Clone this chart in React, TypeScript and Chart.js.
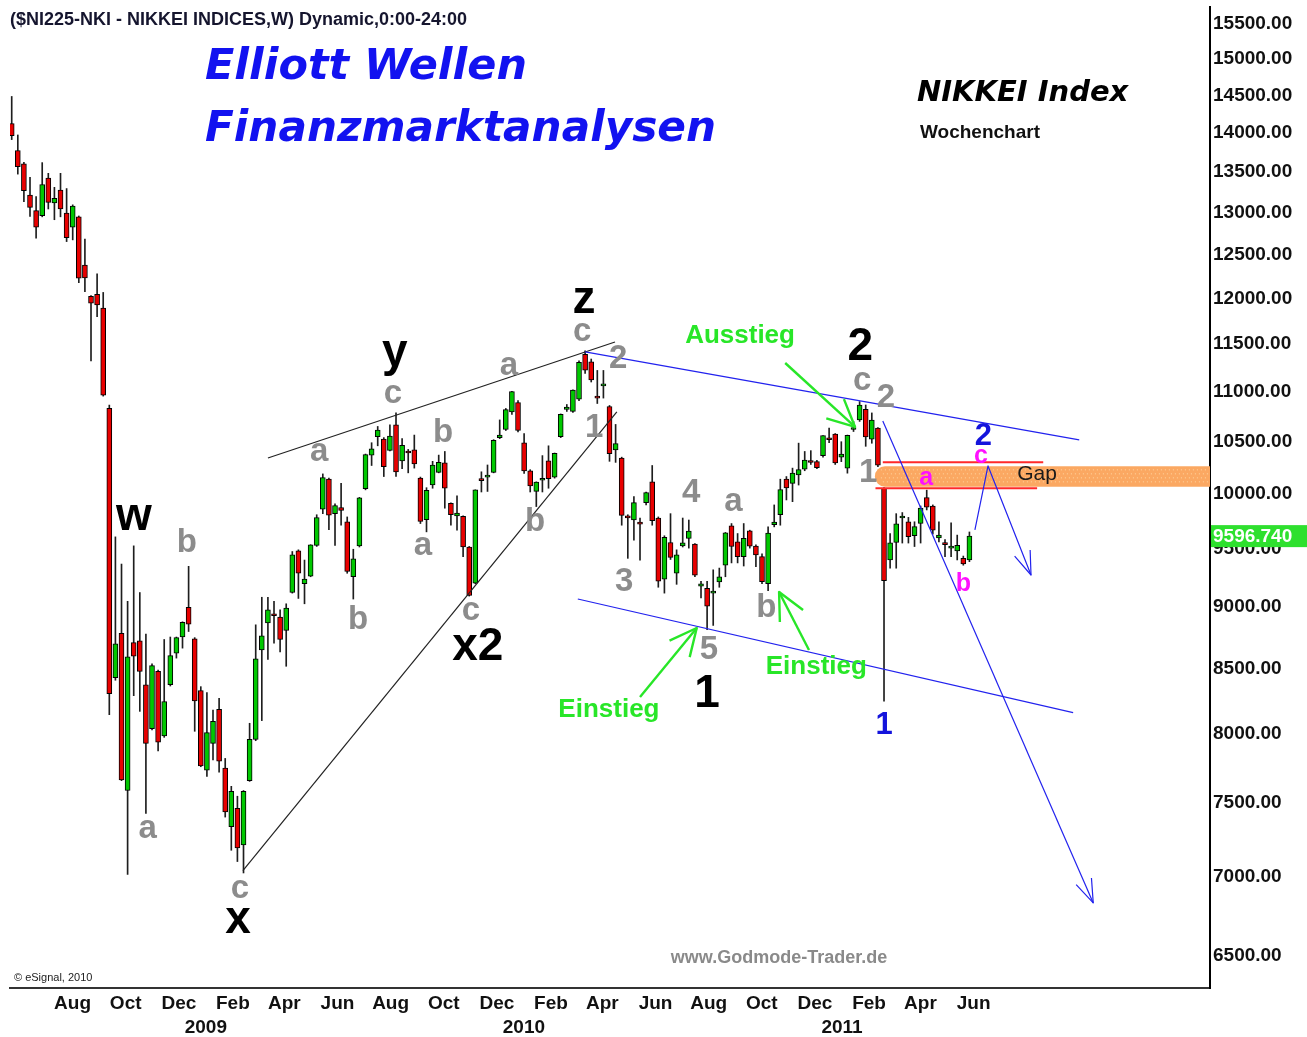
import React, { useEffect, useRef } from "react";
import { Chart, registerables } from "chart.js";

Chart.register(...registerables);

// ---------- data ----------
const START_DATE = Date.UTC(2008, 5, 16); // first weekly candle (week of 16 Jun 2008)
const WEEK_MS = 7 * 86400000;

const opens = [
  14100, 13750, 13580, 13190, 13000, 12940, 13400, 13095, 13250, 12970,
  12800, 12925, 12355, 12000, 12025, 11870, 10810, 8410, 8765, 7570,
  8690, 8705, 8355, 8020, 8460, 7965, 8355, 8605, 8735, 8980,
  8720, 8310, 7715, 7910, 8165, 7730, 7320, 7445, 7195, 7640,
  7940, 8630, 8850, 8920, 8900, 8790, 9105, 9465, 9180, 9245,
  9515, 9840, 10120, 9800, 9855, 9725, 9240, 9510, 10030, 10350,
  10530, 10505, 10395, 10645, 10295, 10375, 10400, 10130, 9745, 10065,
  10185, 10275, 9895, 9780, 9775, 9500, 9185, 10110, 10140, 10185,
  10520, 10600, 10775, 10870, 10470, 10200, 10005, 10110, 10295, 10140,
  10530, 10800, 10780, 10905, 11370, 11290, 10930, 11040, 10830, 10400,
  10320, 9780, 9742, 9715, 9900, 10095, 9760, 9220, 9540, 9270,
  9510, 9577, 9525, 9160, 9140, 9100, 9195, 9340, 9690, 9545,
  9415, 9645, 9508, 9415, 9180, 9700, 9790, 10120, 10080, 10160,
  10215, 10290, 10287, 10345, 10500, 10555, 10330, 10225, 10600, 10695,
  10800, 10505, 10615, 10035, 9386, 9540, 9760, 9725, 9600, 9710,
  9947, 9870, 9580, 9530, 9490, 9466, 9400, 9386,
];
const highs = [
  14460, 13950, 13600, 13410, 13170, 13595, 13460, 13285, 13460, 13270,
  13070, 12935, 12660, 12010, 12255, 12045, 10845, 9590, 9350, 9030,
  9510, 9105, 8760, 8520, 8470, 8715, 8735, 8735, 8860, 9330,
  8730, 8340, 8295, 8160, 8250, 7800, 7600, 7530, 7570, 8060,
  8835, 9065, 9065, 9030, 8960, 9010, 9460, 9475, 9385, 9520,
  9790, 10170, 10130, 9890, 10080, 9770, 9480, 9950, 10360, 10470,
  10630, 10520, 10645, 10765, 10510, 10405, 10545, 10140, 10040, 10290,
  10350, 10385, 9900, 9965, 9780, 9505, 10020, 10190, 10255, 10500,
  10695, 10810, 10985, 10890, 10560, 10210, 10095, 10345, 10440, 10370,
  10755, 10850, 11000, 11300, 11408, 11320, 11200, 11200, 10840, 10650,
  10330, 9790, 9957, 9760, 10000, 10250, 9770, 9600, 9800, 9475,
  9760, 9742, 9530, 9200, 9200, 9300, 9315, 9630, 9710, 9620,
  9710, 9650, 9520, 9440, 9680, 9880, 10120, 10145, 10225, 10466,
  10385, 10393, 10300, 10540, 10615, 10560, 10480, 10545, 10680, 10880,
  10845, 10765, 10620, 10040, 9620, 9800, 9810, 9766, 9726, 9870,
  10017, 9880, 9726, 9565, 9717, 9606, 9420, 9634,
];
const lows = [
  13890, 13450, 13110, 12930, 12670, 12925, 13020, 12890, 12925, 12630,
  12650, 12155, 12055, 11300, 11775, 10935, 8125, 8390, 7640, 7000,
  8270, 8150, 7410, 8010, 7855, 7955, 8345, 8565, 8645, 8780,
  8000, 7740, 7670, 7790, 7700, 7385, 7160, 7085, 7010, 7635,
  7930, 8080, 8555, 8685, 8615, 8500, 9100, 9055, 9010, 9240,
  9505, 9800, 9655, 9515, 9695, 9270, 9050, 9500, 10020, 10250,
  10440, 10145, 10390, 10145, 10220, 10180, 10225, 9710, 9635, 10035,
  10180, 9850, 9695, 9650, 9415, 9075, 9180, 10000, 10005, 10180,
  10510, 10590, 10750, 10575, 10175, 10000, 9865, 10000, 10035, 10130,
  10520, 10780, 10770, 10890, 11170, 11080, 10860, 10915, 10290, 10280,
  9695, 9400, 9560, 9385, 9880, 9695, 9150, 9100, 9390, 9175,
  9500, 9490, 9240, 9060, 8796, 8830, 9150, 9240, 9360, 9360,
  9333, 9490, 9327, 9180, 9120, 9680, 9695, 9926, 9910, 10065,
  10200, 10260, 10220, 10330, 10470, 10260, 10287, 10177, 10580, 10680,
  10435, 10465, 10240, 8227, 9314, 9314, 9535, 9535, 9504, 9535,
  9834, 9615, 9546, 9415, 9415, 9386, 9340, 9371,
];
const closes = [
  13940, 13545, 13245, 13040, 12800, 13320, 13100, 13150, 13020, 12675,
  13055, 12205, 12210, 11925, 11905, 10945, 8285, 8680, 7645, 8575,
  8580, 8460, 7910, 8505, 7920, 8225, 8585, 8730, 8855, 8840,
  8230, 7745, 7990, 8075, 7780, 7420, 7565, 7175, 7565, 7940,
  8560, 8745, 8960, 8910, 8715, 8975, 9430, 9270, 9220, 9520,
  9765, 10135, 9785, 9875, 9830, 9285, 9395, 9945, 10355, 10410,
  10595, 10240, 10535, 10190, 10445, 10370, 10265, 9730, 10015, 10255,
  10280, 10035, 9790, 9805, 9500, 9080, 10020, 10107, 10142, 10494,
  10546, 10798, 10982, 10590, 10198, 10057, 10092, 10123, 10126, 10368,
  10751, 10824, 10996, 11286, 11204, 11102, 10914, 11057, 10364, 10462,
  9784, 9762, 9901, 9705, 9995, 9737, 9203, 9585, 9408, 9431,
  9537, 9642, 9253, 9179, 8991, 9114, 9239, 9626, 9504, 9415,
  9577, 9508, 9430, 9197, 9625, 9724, 10022, 10039, 10178, 10211,
  10303, 10279, 10229, 10541, 10499, 10274, 10360, 10543, 10606, 10843,
  10527, 10694, 10254, 9207, 9536, 9708, 9768, 9591, 9682, 9850,
  9859, 9650, 9607, 9521, 9492, 9514, 9351, 9597,
];

const yTickValues = [
  6500, 7000, 7500, 8000, 8500, 9000, 9500, 10000, 10500, 11000,
  11500, 12000, 12500, 13000, 13500, 14000, 14500, 15000, 15500,
];
const monthTickDates = [
  "2008-08-01", "2008-10-01", "2008-12-01", "2009-02-01", "2009-04-01", "2009-06-01",
  "2009-08-01", "2009-10-01", "2009-12-01", "2010-02-01", "2010-04-01", "2010-06-01",
  "2010-08-01", "2010-10-01", "2010-12-01", "2011-02-01", "2011-04-01", "2011-06-01",
];
const monthTickLabels = [
  "Aug", "Oct", "Dec", "Feb", "Apr", "Jun",
  "Aug", "Oct", "Dec", "Feb", "Apr", "Jun",
  "Aug", "Oct", "Dec", "Feb", "Apr", "Jun",
];
const yearTickDates = ["2009-01-01", "2010-01-01", "2011-01-01"];
const yearTickLabels = ["2009", "2010", "2011"];

const lastPrice = 9596.74;
const gapBand = [10050, 10242]; // orange gap zone
const gapEdgeLow = 10035;
const gapEdgeHigh = 10281;

// annotations in chart coordinates (week index, price)
const waveLabels = [
  { text: "w", week: 20.05, price: 9770, style: "black" },
  { text: "b", week: 28.7, price: 9536, style: "gray" },
  { text: "a", week: 22.3, price: 7304, style: "gray" },
  { text: "c", week: 37.4, price: 6906, style: "gray" },
  { text: "x", week: 37.1, price: 6710, style: "black" },
  { text: "a", week: 50.4, price: 10381, style: "gray" },
  { text: "c", week: 62.5, price: 10957, style: "gray" },
  { text: "y", week: 62.8, price: 11385, style: "black" },
  { text: "b", week: 56.8, price: 8875, style: "gray" },
  { text: "a", week: 67.4, price: 9509, style: "gray" },
  { text: "b", week: 70.7, price: 10567, style: "gray" },
  { text: "a", week: 81.5, price: 11247, style: "gray" },
  { text: "c", week: 93.5, price: 11610, style: "gray" },
  { text: "z", week: 93.8, price: 11960, style: "black" },
  { text: "c", week: 75.3, price: 8950, style: "gray" },
  { text: "x2", week: 76.4, price: 8655, style: "black" },
  { text: "b", week: 85.8, price: 9724, style: "gray" },
  { text: "1", week: 95.5, price: 10615, style: "gray" },
  { text: "2", week: 99.4, price: 11320, style: "gray" },
  { text: "3", week: 100.4, price: 9195, style: "gray" },
  { text: "4", week: 111.4, price: 9991, style: "gray" },
  { text: "a", week: 118.3, price: 9908, style: "gray" },
  { text: "5", week: 114.3, price: 8630, style: "gray" },
  { text: "b", week: 123.7, price: 8975, style: "gray" },
  { text: "1", week: 114.0, price: 8283, style: "black" },
  { text: "2", week: 139.1, price: 11446, style: "black" },
  { text: "c", week: 139.4, price: 11091, style: "gray" },
  { text: "2", week: 143.3, price: 10916, style: "gray" },
  { text: "1", week: 140.4, price: 10179, style: "gray" },
  { text: "1", week: 143.0, price: 8047, style: "blue" },
  { text: "2", week: 159.3, price: 10536, style: "blue" },
  { text: "c", week: 158.9, price: 10342, style: "magenta" },
  { text: "a", week: 149.9, price: 10132, style: "magenta" },
  { text: "b", week: 156.0, price: 9177, style: "magenta" },
  { text: "Ausstieg", week: 119.4, price: 11566, style: "green" },
  { text: "Einstieg", week: 97.9, price: 8160, style: "green" },
  { text: "Einstieg", week: 131.9, price: 8495, style: "green" },
  { text: "Gap", week: 168.1, price: 10170, style: "gap" },
];
const trendLines = [
  { from: [42.0, 10322], to: [98.9, 11501], color: "black" },
  { from: [37.9, 7025], to: [99.2, 10775], color: "black" },
  { from: [94.0, 11396], to: [175.0, 10497], color: "blue" },
  { from: [92.8, 9050], to: [174.0, 8140], color: "blue" },
];
const arrowPaths = [
  { points: [[142.8, 10684], [177.3, 6817]], color: "blue" },
  { points: [[157.9, 9652], [160.05, 10246], [167.1, 9255]], color: "blue" },
  { points: [[126.8, 11278], [138.25, 10625]], color: "green" },
  { points: [[103.0, 8260], [112.3, 8809]], color: "green" },
  { points: [[130.7, 8630], [125.8, 9110]], color: "green" },
];
const gapStartWeek = 141.5;
const gapHighLine = [142.8, 169.1];
const gapLowLine = [141.6, 168.1];

// ---------- styling ----------
const FONT = "'Liberation Sans', Arial, Helvetica, sans-serif";
const WIDE = "'DejaVu Sans', Verdana, sans-serif";
const UP = "#00c800";
const DOWN = "#e80000";
const LABEL_SHIFT_WEEKS = 3.4;

const labelStyles: any = {
  black: { font: `bold 46px ${FONT}`, color: "#000000" },
  gray: { font: `bold 33px ${FONT}`, color: "#8c8c8c" },
  blue: { font: `bold 31px ${FONT}`, color: "#1414dc" },
  magenta: { font: `bold 25px ${FONT}`, color: "#ff10ff" },
  green: { font: `bold 26px ${FONT}`, color: "#28e628" },
  gap: { font: `21px ${FONT}`, color: "#1a1a1a" },
};
const lineColors: any = { black: "#222222", blue: "#2222ee", green: "#28e628" };

const weekOf = (d: string) => (Date.parse(d) - START_DATE) / WEEK_MS;

const xTicks = [
  ...monthTickDates.map((d, i) => ({ value: weekOf(d) + LABEL_SHIFT_WEEKS, label: monthTickLabels[i] as any })),
  ...yearTickDates.map((d, i) => ({ value: weekOf(d) + LABEL_SHIFT_WEEKS, label: ["", yearTickLabels[i]] as any })),
].sort((a, b) => a.value - b.value);

function drawHead(ctx: any, x1: number, y1: number, x2: number, y2: number, len: number, half: number) {
  const ang = Math.atan2(y2 - y1, x2 - x1);
  ctx.beginPath();
  ctx.moveTo(x2 - len * Math.cos(ang - half), y2 - len * Math.sin(ang - half));
  ctx.lineTo(x2, y2);
  ctx.lineTo(x2 - len * Math.cos(ang + half), y2 - len * Math.sin(ang + half));
  ctx.stroke();
}

const overlayPlugin = {
  id: "overlay",
  beforeDatasetsDraw(chart: any) {
    const { ctx, chartArea: ca, scales } = chart;
    const xs = scales.x;
    const ys = scales.y;
    const x0 = xs.getPixelForValue(gapStartWeek);
    const yTop = ys.getPixelForValue(gapBand[1]);
    const yBot = ys.getPixelForValue(gapBand[0]);
    ctx.save();
    ctx.fillStyle = "#fba862";
    ctx.beginPath();
    const h = yBot - yTop;
    if (ctx.roundRect) ctx.roundRect(x0, yTop, ca.right - x0, h, [h / 2, 0, 0, h / 2]);
    else ctx.rect(x0, yTop, ca.right - x0, h);
    ctx.fill();
    ctx.fillStyle = "rgba(255, 222, 175, 0.85)";
    let row = 0;
    for (let yy = yTop + 3; yy < yBot - 2; yy += 4, row++) {
      for (let xx = x0 + 6 + (row % 2) * 2; xx < ca.right - 2; xx += 4) ctx.fillRect(xx, yy, 1, 1);
    }
    ctx.restore();
  },
  afterDatasetsDraw(chart: any) {
    const { ctx, scales } = chart;
    const xs = scales.x;
    const ys = scales.y;
    const px = (w: number) => xs.getPixelForValue(w);
    const py = (p: number) => ys.getPixelForValue(p);
    ctx.save();
    // gap edges
    ctx.strokeStyle = "#ff2a2a";
    ctx.lineWidth = 2;
    ctx.beginPath();
    ctx.moveTo(px(gapHighLine[0]), py(gapEdgeHigh));
    ctx.lineTo(px(gapHighLine[1]), py(gapEdgeHigh));
    ctx.moveTo(px(gapLowLine[0]), py(gapEdgeLow));
    ctx.lineTo(px(gapLowLine[1]), py(gapEdgeLow));
    ctx.stroke();
    // trend / channel lines
    for (const l of trendLines) {
      ctx.strokeStyle = lineColors[l.color];
      ctx.lineWidth = 1.2;
      ctx.beginPath();
      ctx.moveTo(px(l.from[0]), py(l.from[1]));
      ctx.lineTo(px(l.to[0]), py(l.to[1]));
      ctx.stroke();
    }
    // arrows
    for (const a of arrowPaths) {
      const pts = a.points.map((p) => [px(p[0]), py(p[1])]);
      const green = a.color === "green";
      ctx.strokeStyle = lineColors[a.color];
      ctx.lineWidth = green ? 2.4 : 1.2;
      ctx.lineJoin = "round";
      ctx.beginPath();
      ctx.moveTo(pts[0][0], pts[0][1]);
      for (let i = 1; i < pts.length; i++) ctx.lineTo(pts[i][0], pts[i][1]);
      ctx.stroke();
      const n = pts.length;
      drawHead(ctx, pts[n - 2][0], pts[n - 2][1], pts[n - 1][0], pts[n - 1][1], green ? 30 : 25, green ? 0.45 : 0.34);
    }
    // wave labels
    ctx.textAlign = "center";
    ctx.textBaseline = "middle";
    for (const w of waveLabels) {
      const s = labelStyles[w.style];
      ctx.font = s.font;
      ctx.fillStyle = s.color;
      ctx.fillText(w.text, px(w.week), py(w.price));
    }
    ctx.restore();
  },
  afterDraw(chart: any) {
    const { ctx, chartArea: ca, scales, width } = chart;
    const ys = scales.y;
    ctx.save();
    ctx.textAlign = "left";
    ctx.textBaseline = "alphabetic";
    ctx.fillStyle = "#15152e";
    ctx.font = `bold 18px ${FONT}`;
    ctx.fillText("($NI225-NKI - NIKKEI INDICES,W) Dynamic,0:00-24:00", 10, 25, 498);
    ctx.fillStyle = "#1212f0";
    ctx.font = `italic bold 43px ${WIDE}`;
    ctx.fillText("Elliott Wellen", 205, 79, 322);
    ctx.fillText("Finanzmarktanalysen", 205, 141, 511);
    ctx.fillStyle = "#000";
    ctx.font = `italic bold 29px ${WIDE}`;
    ctx.fillText("NIKKEI Index", 917, 101, 214);
    ctx.font = `bold 19px ${FONT}`;
    ctx.fillStyle = "#111";
    ctx.fillText("Wochenchart", 920, 138, 128);
    ctx.fillStyle = "#8a8a8a";
    ctx.font = `bold 18px ${FONT}`;
    ctx.textAlign = "center";
    ctx.fillText("www.Godmode-Trader.de", 779, 963, 219);
    ctx.textAlign = "left";
    ctx.fillStyle = "#222";
    ctx.font = `11px ${FONT}`;
    ctx.fillText("\u00a9 eSignal, 2010", 14, 981);
    // last price box
    const yp = ys.getPixelForValue(lastPrice);
    ctx.fillStyle = "#2ee02e";
    ctx.fillRect(ca.right + 1, yp - 11, width - ca.right, 22);
    ctx.fillStyle = "#ffffff";
    ctx.font = `bold 19px ${FONT}`;
    ctx.textBaseline = "middle";
    ctx.fillText(lastPrice.toFixed(3), ca.right + 3, yp + 1);
    ctx.restore();
  },
};

export default function App() {
  const ref = useRef<HTMLCanvasElement>(null);
  useEffect(() => {
    document.body.style.margin = "0";
    const canvas = ref.current;
    if (!canvas) return;
    const wicks = highs.map((h, i) => ({ x: i, y: [lows[i], h] }));
    const bodies = opens.map((o, i) => ({ x: i, y: [Math.min(o, closes[i]), Math.max(o, closes[i])] }));
    const bodyColors = opens.map((o, i) => (closes[i] >= o ? UP : DOWN));
    const chart = new Chart(canvas, {
      type: "bar",
      data: {
        datasets: [
          {
            label: "body",
            data: bodies as any,
            backgroundColor: bodyColors,
            borderColor: "#000",
            borderWidth: 1,
            borderSkipped: false,
            barThickness: 5,
            minBarLength: 2,
            grouped: false,
            order: 0,
          } as any,
          {
            label: "wick",
            data: wicks as any,
            backgroundColor: "#1e1e1e",
            borderWidth: 0,
            barThickness: 1,
            grouped: false,
            order: 1,
          } as any,
        ],
      },
      options: {
        animation: false,
        responsive: false,
        devicePixelRatio: 1,
        layout: { padding: { left: 10, right: 0, top: 7, bottom: 0 } },
        plugins: { legend: { display: false }, tooltip: { enabled: false } },
        scales: {
          x: {
            type: "linear",
            min: -0.28,
            max: 196.44,
            offset: false,
            bounds: "data",
            grid: { display: false, drawTicks: false },
            border: { display: true, color: "#333", width: 2 },
            ticks: {
              autoSkip: false,
              maxRotation: 0,
              minRotation: 0,
              padding: 4,
              color: "#111",
              font: { family: FONT, size: 19, weight: "bold", lineHeight: 1.26 },
              callback: (_v: any, i: number) => (xTicks[i] ? xTicks[i].label : ""),
            },
            afterBuildTicks: (s: any) => {
              s.ticks = xTicks.map((t) => ({ value: t.value }));
            },
            afterFit: (s: any) => {
              s.height = 49;
              s.paddingLeft = 0;
              s.paddingRight = 0;
            },
          },
          y: {
            type: "logarithmic",
            position: "right",
            min: 6297,
            max: 15718,
            grid: { display: false, drawTicks: false },
            border: { display: true, color: "#000", width: 2 },
            ticks: {
              autoSkip: false,
              padding: 3,
              labelOffset: 2,
              color: "#111",
              font: { family: FONT, size: 19, weight: "bold" },
              callback: (v: any) => Number(v).toFixed(2),
            },
            afterBuildTicks: (s: any) => {
              s.ticks = yTickValues.map((v) => ({ value: v }));
            },
            afterFit: (s: any) => {
              s.width = 97;
              s.paddingTop = 0;
              s.paddingBottom = 0;
            },
          },
        },
      } as any,
      plugins: [overlayPlugin],
    });
    return () => chart.destroy();
  }, []);
  return (
    <div style={{ position: "absolute", left: 0, top: 0, width: 1307, height: 1037, background: "#fff" }}>
      <canvas ref={ref} width={1307} height={1037} style={{ display: "block", width: 1307, height: 1037 }} />
    </div>
  );
}
